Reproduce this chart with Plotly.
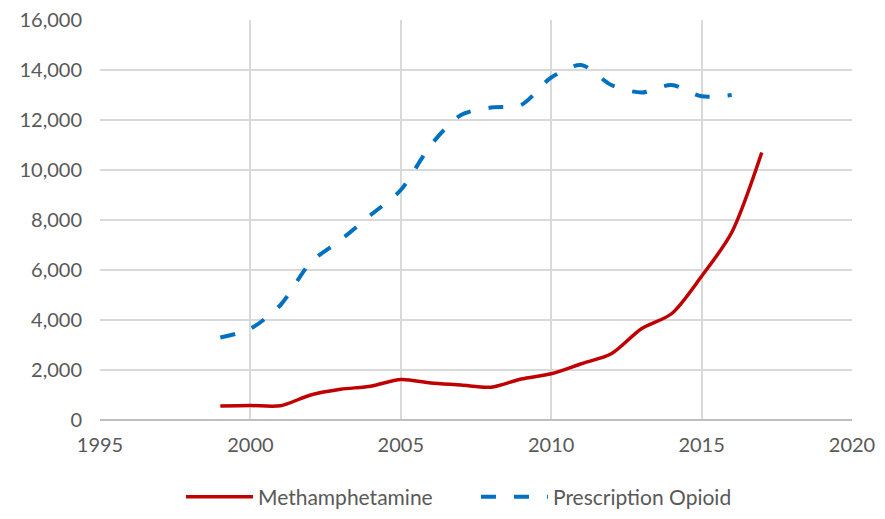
import plotly.graph_objects as go

years_meth = list(range(1999, 2018))
meth = [560, 580, 570, 1000, 1230, 1350, 1620, 1480, 1400, 1310, 1640, 1850, 2250, 2650, 3650, 4250, 5750, 7500, 10700]

years_opioid = list(range(1999, 2017))
opioid = [3300, 3650, 4600, 6300, 7200, 8200, 9200, 11000, 12200, 12500, 12600, 13700, 14200, 13400, 13100, 13400, 12950, 13000]

x_ticks = [1995, 2000, 2005, 2010, 2015, 2020]

fig = go.Figure()
fig.add_trace(go.Scatter(
    x=years_meth, y=meth, name="Methamphetamine", mode="lines",
    line=dict(color="#C00000", width=3.5, shape="spline", smoothing=0.8),
))
fig.add_trace(go.Scatter(
    x=years_opioid, y=opioid, name="Prescription Opioid", mode="lines",
    line=dict(color="#0070C0", width=4, shape="spline", smoothing=0.8, dash="15px,18px"),
))

font_col = "#595959"
fig.update_layout(
    width=877, height=511,
    margin=dict(l=92, r=33, t=12, b=99, autoexpand=False),
    paper_bgcolor="white", plot_bgcolor="white",
    font=dict(family="Lato, Open Sans, sans-serif", size=20, color=font_col),
    showlegend=True,
    legend=dict(orientation="h", x=0.5336, xanchor="center", xref="container",
                y=0.043, yanchor="middle", yref="container",
                font=dict(size=21, color=font_col), itemwidth=67,
                entrywidth=213, entrywidthmode="pixels", traceorder="normal"),
    xaxis=dict(range=[1995, 2020], tickvals=x_ticks, showgrid=True, gridcolor="#D9D9D9",
               gridwidth=1.5, zeroline=False, showline=False, ticks="", automargin=False,
               ticklabelstandoff=11, tickfont=dict(size=20, color=font_col)),
    yaxis=dict(range=[0, 16000], dtick=2000, tickformat=",", showgrid=True, gridcolor="#D9D9D9",
               gridwidth=1.5, zeroline=True, zerolinecolor="#BFBFBF", zerolinewidth=1.5,
               showline=False, ticks="", ticklabelstandoff=17, ticklabeloverflow="allow",
               automargin=False, tickfont=dict(size=20, color=font_col)),
)
fig.write_html("out.html")
